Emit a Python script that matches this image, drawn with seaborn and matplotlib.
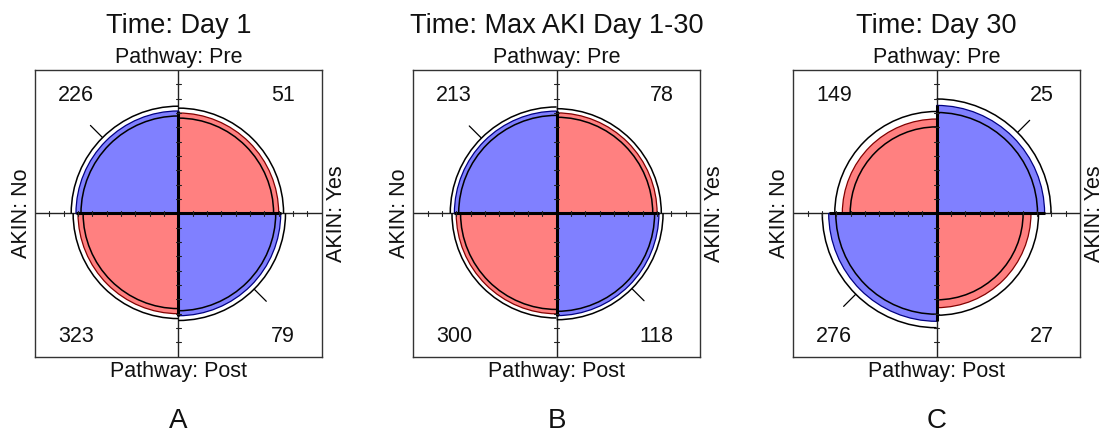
import numpy as np
import matplotlib
matplotlib.use("Agg")
import matplotlib.pyplot as plt
import seaborn as sns
from matplotlib.patches import Wedge, Arc

sns.set_theme(style="white")
plt.rcParams["font.family"] = ["Liberation Sans", "DejaVu Sans"]

# ---- data ----
time_labels = ["Day 1", "Max AKI Day 1-30", "Day 30"]
panel_letters = ["A", "B", "C"]
row_labels = ["Pre", "Post"]          # Pathway
col_labels = ["No", "Yes"]            # AKIN
pre_no = [226, 213, 149]
pre_yes = [51, 78, 25]
post_no = [323, 300, 276]
post_yes = [79, 118, 27]

BLUE = "#8080ff"
RED = "#ff8080"
BLUE_EDGE = "#000080"
RED_EDGE = "#800000"

FIG_W, FIG_H = 1106, 444
lefts_px = [35, 413.3, 793.3]
top_px = 70
BOX = 286.7

fig = plt.figure(figsize=(FIG_W / 100, FIG_H / 100), dpi=100)


def std_a(theta):
    s = np.sqrt(theta)
    return s / (1 + s)


for i in range(3):
    ax = fig.add_axes([lefts_px[i] / FIG_W, (FIG_H - top_px - BOX) / FIG_H,
                       BOX / FIG_W, BOX / FIG_H])
    ax.set_xlim(-1, 1)
    ax.set_ylim(-1, 1)
    ax.set_xticks([])
    ax.set_yticks([])
    for sp in ax.spines.values():
        sp.set_visible(True)
        sp.set_color("#333333")
        sp.set_linewidth(1.0)

    a, b, c, d = pre_no[i], pre_yes[i], post_no[i], post_yes[i]
    theta = (a * d) / (b * c)
    se = np.sqrt(1 / a + 1 / b + 1 / c + 1 / d)
    lo = np.exp(np.log(theta) - 1.96 * se)
    hi = np.exp(np.log(theta) + 1.96 * se)

    ad = std_a(theta)
    a_lo, a_hi = std_a(lo), std_a(hi)
    # quadrants: (theta1, theta2, diagonal?)
    quads = {
        "TL": (90, 180, True, a),
        "TR": (0, 90, False, b),
        "BL": (180, 270, False, c),
        "BR": (270, 360, True, d),
    }
    radii = {}
    # thin cross
    ax.plot([-1, 1], [0, 0], color="#222222", lw=1.0, zorder=1)
    ax.plot([0, 0], [-1, 1], color="#222222", lw=1.0, zorder=1)
    for key, (t1, t2, diag, n) in quads.items():
        val = ad if diag else 1 - ad
        r = np.sqrt(val)
        r_in = np.sqrt(a_lo if diag else 1 - a_hi)
        r_out = np.sqrt(a_hi if diag else 1 - a_lo)
        r_in, r_out = min(r_in, r_out), max(r_in, r_out)
        radii[key] = r
        big = val > 0.5
        col = BLUE if big else RED
        ecol = BLUE_EDGE if big else RED_EDGE
        ax.add_patch(Wedge((0, 0), r, t1, t2, facecolor=col, edgecolor=ecol,
                           lw=0.9, zorder=2))
        for rr in (r_in, r_out):
            ax.add_patch(Arc((0, 0), 2 * rr, 2 * rr, theta1=t1, theta2=t2,
                             color="black", lw=1.1, zorder=3))
        if big:
            ang = np.deg2rad((t1 + t2) / 2)
            ax.plot([r_out * np.cos(ang), (r_out + 0.12) * np.cos(ang)],
                    [r_out * np.sin(ang), (r_out + 0.12) * np.sin(ang)],
                    color="black", lw=0.9, zorder=3)
        # counts
    # thick axis segments
    up = max(radii["TL"], radii["TR"])
    right = max(radii["TR"], radii["BR"])
    down = max(radii["BL"], radii["BR"])
    left = max(radii["TL"], radii["BL"])
    kw = dict(color="black", lw=2.2, solid_capstyle="butt", zorder=4)
    ax.plot([0, 0], [0, up], **kw)
    ax.plot([0, 0], [0, -down], **kw)
    ax.plot([0, right], [0, 0], **kw)
    ax.plot([0, -left], [0, 0], **kw)
    # tick marks
    tk = 0.018
    for t in np.arange(1, 10) / 10:
        for s in (-1, 1):
            ax.plot([s * t, s * t], [-tk, tk], color="#222222", lw=0.8, zorder=5)
            ax.plot([-tk, tk], [s * t, s * t], color="#222222", lw=0.8, zorder=5)

    # counts
    fs_n = 15.5
    ax.text(-0.84, 0.825, str(a), ha="left", va="center", fontsize=fs_n, color="#111111")
    ax.text(0.815, 0.825, str(b), ha="right", va="center", fontsize=fs_n, color="#111111")
    ax.text(-0.84, -0.86, str(c), ha="left", va="center", fontsize=fs_n, color="#111111")
    ax.text(0.815, -0.86, str(d), ha="right", va="center", fontsize=fs_n, color="#111111")

    # labels
    ax.text(0, 1.09, "Pathway: " + row_labels[0], ha="center", va="center",
            fontsize=15.5, color="#111111", clip_on=False)
    ax.text(0, -1.105, "Pathway: " + row_labels[1], ha="center", va="center",
            fontsize=15.5, color="#111111", clip_on=False)
    ax.text(-1.097, 0, "AKIN: " + col_labels[0], ha="center", va="center",
            rotation=90, fontsize=15.5, color="#111111", clip_on=False)
    ax.text(1.10, 0, "AKIN: " + col_labels[1], ha="center", va="center",
            rotation=90, fontsize=15.5, color="#111111", clip_on=False)
    ax.text(0, 1.31, "Time: " + time_labels[i], ha="center", va="center",
            fontsize=19.5, color="#111111", clip_on=False)
    ax.text(0, -1.45, panel_letters[i], ha="center", va="center",
            fontsize=20, color="#111111", clip_on=False)

fig.savefig("out.png", dpi=100)
